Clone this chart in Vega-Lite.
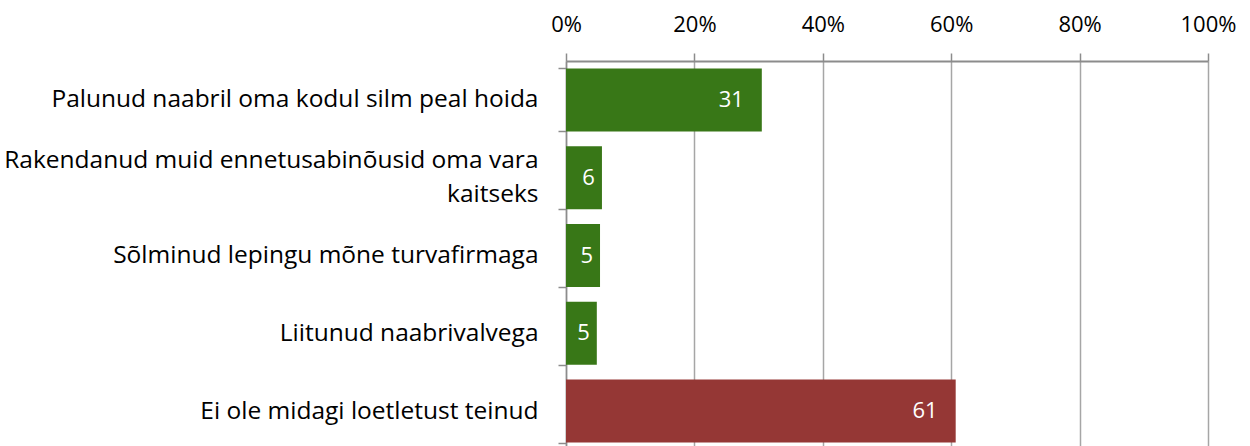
{
  "$schema": "https://vega.github.io/schema/vega-lite/v6.json",
  "autosize": {"type": "none"},
  "width": 642,
  "height": 389,
  "padding": {"left": 566, "top": 61, "right": 42, "bottom": 0},
  "background": "white",
  "config": {
    "view": {"stroke": null},
    "font": "Open Sans"
  },
  "data": {
    "values": [
      {"action": "Palunud naabril oma kodul silm peal hoida", "pct": 30.5, "group": "done"},
      {"action": "Rakendanud muid ennetusabinõusid oma vara kaitseks", "pct": 5.6, "group": "done"},
      {"action": "Sõlminud lepingu mõne turvafirmaga", "pct": 5.3, "group": "done"},
      {"action": "Liitunud naabrivalvega", "pct": 4.8, "group": "done"},
      {"action": "Ei ole midagi loetletust teinud", "pct": 60.7, "group": "none"}
    ]
  },
  "encoding": {
    "y": {
      "field": "action",
      "type": "nominal",
      "sort": null,
      "scale": {"paddingInner": 0.19, "paddingOuter": 0.095},
      "axis": {
        "title": null,
        "orient": "left",
        "tickBand": "extent",
        "domainColor": "#8c8c8c",
        "domainWidth": 1.5,
        "tickColor": "#8c8c8c",
        "tickWidth": 1.5,
        "tickSize": 8,
        "labelPadding": 20,
        "labelFontSize": 24.5,
        "labelColor": "#000000",
        "labelLimit": 700,
        "labelLineHeight": 34,
        "labelOffset": {"condition": {"test": "datum.value == 'Rakendanud muid ennetusabinõusid oma vara kaitseks'", "value": -17}, "value": 0},
        "labelExpr": "datum.value == 'Rakendanud muid ennetusabinõusid oma vara kaitseks' ? ['Rakendanud muid ennetusabinõusid oma vara', 'kaitseks'] : datum.value"
      }
    },
    "x": {
      "field": "pct",
      "type": "quantitative",
      "scale": {"domain": [0, 100], "nice": false},
      "axis": {
        "title": null,
        "orient": "top",
        "values": [0, 20, 40, 60, 80, 100],
        "labelExpr": "datum.value + '%'",
        "grid": true,
        "gridColor": "#a6a6a6",
        "gridWidth": 1.5,
        "domainColor": "#8c8c8c",
        "domainWidth": 2,
        "tickColor": "#8c8c8c",
        "tickWidth": 1.5,
        "tickSize": 8,
        "labelPadding": 17,
        "labelFontSize": 22,
        "labelColor": "#000000",
        "labelFlush": false
      }
    }
  },
  "layer": [
    {
      "mark": {"type": "bar"},
      "encoding": {
        "color": {
          "field": "group",
          "type": "nominal",
          "scale": {"domain": ["done", "none"], "range": ["#387717", "#953735"]},
          "legend": null
        }
      }
    },
    {
      "transform": [{"filter": "datum.pct >= 10"}],
      "mark": {"type": "text", "align": "right", "baseline": "middle", "dx": -18, "fontSize": 22, "color": "white"},
      "encoding": {
        "text": {"field": "pct", "type": "quantitative", "format": ".0f"}
      }
    },
    {
      "transform": [{"filter": "datum.pct < 10"}],
      "mark": {"type": "text", "align": "right", "baseline": "middle", "dx": -7, "fontSize": 22, "color": "white"},
      "encoding": {
        "text": {"field": "pct", "type": "quantitative", "format": ".0f"}
      }
    }
  ]
}
